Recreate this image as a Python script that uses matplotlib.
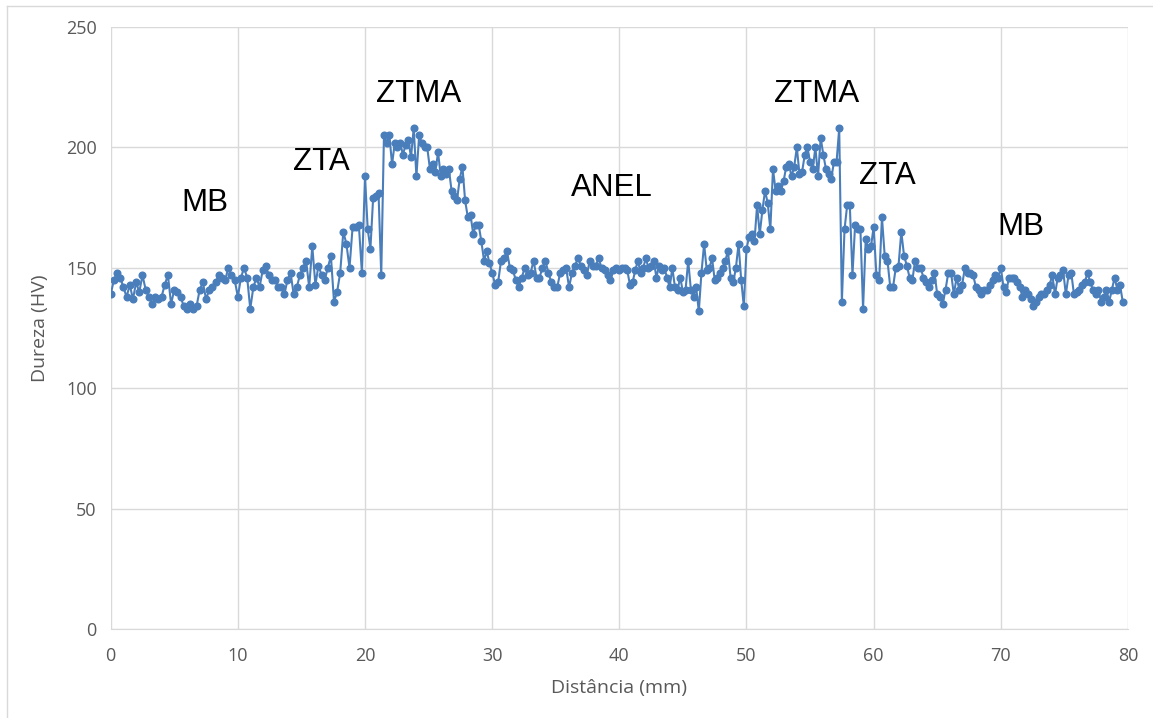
import numpy as np
import matplotlib.pyplot as plt
from matplotlib.lines import Line2D

# Hardness readings (HV), one list per 10 mm stretch of the profile
dureza_00_10 = [139, 145, 148, 146, 142, 138, 143, 137, 144, 140,
                147, 141, 138, 135, 138, 137, 138, 143, 147, 135,
                141, 140, 138, 134, 133, 135, 133, 134, 141, 144,
                137, 141, 142, 144, 147, 146, 145, 150, 147, 145]
dureza_10_20 = [138, 146, 150, 146, 133, 142, 146, 142, 149, 151,
                147, 145, 145, 142, 142, 139, 145, 148, 139, 142,
                147, 150, 153, 142, 159, 143, 151, 147, 145, 150,
                155, 136, 140, 148, 165, 160, 150, 167, 167, 168, 148]
dureza_20_30 = [188, 166, 158, 179, 180, 181, 147, 205, 202, 205,
                193, 202, 200, 202, 197, 201, 203, 196, 208, 188,
                205, 202, 200, 200, 191, 193, 190, 198, 188, 191,
                189, 191, 182, 180, 178, 187, 192, 178, 171, 172,
                164, 168, 168, 161, 153, 157, 152]
dureza_30_40 = [148, 143, 144, 153, 154, 157, 150, 149, 145, 142,
                146, 150, 147, 148, 153, 146, 146, 150, 153, 148,
                144, 142, 142, 148, 149, 150, 142, 148, 151, 154,
                151, 149, 147, 153, 151, 151, 154, 150, 149, 147,
                145, 149, 150]
dureza_40_50 = [149, 150, 150, 149, 143, 144, 149, 153, 148, 150,
                154, 150, 151, 153, 146, 151, 149, 150, 146, 142,
                150, 142, 141, 146, 140, 141, 153, 141, 138, 142,
                132, 148, 160, 149, 150, 154, 145, 146, 148, 150,
                153, 157, 146, 144, 150, 160, 145, 134]
dureza_50_60 = [158, 163, 164, 161, 176, 164, 174, 182, 177, 166,
                191, 182, 184, 182, 186, 192, 193, 188, 192, 200,
                189, 190, 197, 200, 194, 191, 200, 188, 204, 197,
                191, 189, 187, 194, 194, 208, 136, 166, 176, 176,
                147, 168, 166, 166, 133, 162, 158, 159]
dureza_60_70 = [167, 147, 145, 171, 155, 153, 142, 142, 150, 151,
                165, 155, 151, 146, 145, 153, 150, 150, 146, 144,
                142, 145, 148, 139, 138, 135, 141, 148, 148, 139,
                146, 141, 143, 150, 148, 148, 147, 142, 141, 139,
                141, 141, 143, 145, 147, 146]
dureza_70_80 = [150, 142, 140, 146, 146, 146, 144, 142, 138, 141,
                139, 137, 134, 136, 138, 139, 139, 141, 143, 147,
                139, 146, 147, 149, 139, 147, 148, 139, 140, 141,
                143, 144, 148, 144, 141, 139, 141, 136, 138, 141,
                136, 141, 146, 141, 143, 136]

trechos = [dureza_00_10, dureza_10_20, dureza_20_30, dureza_30_40,
           dureza_40_50, dureza_50_60, dureza_60_70, dureza_70_80]
limites = [0, 10, 20, 30, 40, 50, 60, 70, 79.8]

rotulos = ["MB", "ZTA", "ZTMA", "ANEL", "ZTMA", "ZTA", "MB"]
rotulos_x = [7.4, 16.6, 24.2, 39.4, 55.5, 61.1, 71.6]
rotulos_y = [177, 194, 222, 183, 222, 188, 167]

# distances: readings spread evenly across each stretch
dist = np.concatenate([np.linspace(limites[i], limites[i + 1], len(t), endpoint=False)
                       for i, t in enumerate(trechos)])
dureza = np.concatenate([np.array(t, dtype=float) for t in trechos])

fig = plt.figure(figsize=(11.53, 7.18), dpi=100)
ax = fig.add_axes([0.096, 0.1235, 0.8823, 0.8389])

azul = "#4A7EBB"
cinza = "#595959"
grade = "#D9D9D9"

ax.plot(dist, dureza, color=azul, linewidth=1.5, marker="o", markersize=4.8,
        markerfacecolor=azul, markeredgecolor=azul, zorder=3)

ax.set_xlim(0, 80)
ax.set_ylim(0, 250)
ax.set_xticks(range(0, 81, 10))
ax.set_yticks(range(0, 251, 50))
ax.grid(True, color=grade, linewidth=1.0)
ax.set_axisbelow(True)
for s in ["top", "right", "left"]:
    ax.spines[s].set_visible(False)
ax.spines["bottom"].set_color(grade)
ax.tick_params(length=0, colors=cinza, labelsize=13)
ax.tick_params(axis="x", pad=13)
ax.tick_params(axis="y", pad=10)
for lab in ax.get_xticklabels() + ax.get_yticklabels():
    lab.set_family("Open Sans")

ax.set_xlabel("Distância (mm)", family="Open Sans", fontsize=14, color=cinza)
ax.set_ylabel("Dureza (HV)", family="Open Sans", fontsize=14, color=cinza)
ax.xaxis.label.set_va("center")
ax.yaxis.label.set_va("center")
ax.xaxis.set_label_coords(0.5, -0.0975)
ax.yaxis.set_label_coords(-0.0695, 0.5)

for txt, x, y in zip(rotulos, rotulos_x, rotulos_y):
    ax.text(x, y, txt, ha="center", va="center", fontsize=22.5,
            family="Liberation Sans", color="black")

# chart area border (Excel style)
fig.add_artist(Line2D([7 / 1153, 1], [1 - 6 / 718, 1 - 6 / 718],
                      transform=fig.transFigure, color=grade, linewidth=1))
fig.add_artist(Line2D([7 / 1153, 7 / 1153], [0, 1 - 6 / 718],
                      transform=fig.transFigure, color=grade, linewidth=1))

fig.savefig("out.png", dpi=100)
